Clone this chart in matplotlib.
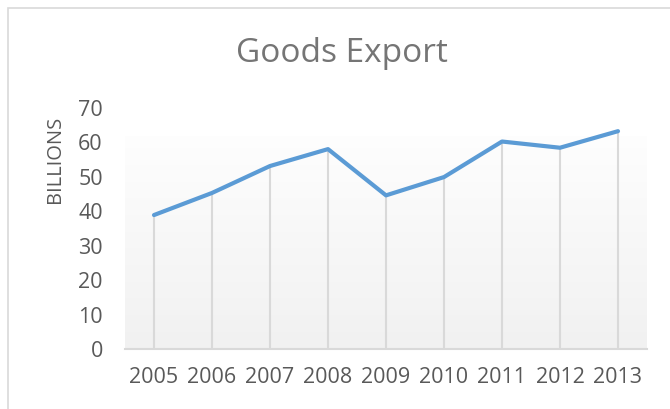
import numpy as np
import matplotlib
matplotlib.use("Agg")
import matplotlib.pyplot as plt
from matplotlib.patches import Rectangle

years = ["2005", "2006", "2007", "2008", "2009", "2010", "2011", "2012", "2013"]
exports = [38.9, 45.3, 53.1, 58.0, 44.6, 49.9, 60.2, 58.4, 63.2]
y_ticks = [0, 10, 20, 30, 40, 50, 60, 70]

W, H = 670, 409
fig = plt.figure(figsize=(W / 100, H / 100), dpi=100)
fig.patch.set_facecolor("white")

# chart frame
fig.add_artist(Rectangle((7.5 / W, -0.1), 1.2, 1 - 8 / H + 0.1, transform=fig.transFigure,
                         fill=False, edgecolor="#d9d9d9", linewidth=1.2))

ax = fig.add_axes([125 / W, 1 - 349.3 / H, (647 - 125) / W, (349.3 - 107.7) / H])
x = np.arange(len(years))
ax.set_xlim(-0.5, len(years) - 0.5)
ax.set_ylim(0, 70)

# plot-area gradient: near white at top fading to light gray at the bottom
grad = np.linspace(0, 1, 256).reshape(-1, 1)
top = np.array([0.995, 0.995, 0.995])
bot = np.array([0.945, 0.945, 0.945])
img = top + (bot - top) * grad[..., None]
ax.imshow(np.repeat(img, 2, axis=1), extent=[-0.5, len(years) - 0.5, 0, 61.5],
          origin="upper", aspect="auto", zorder=0)

# drop lines from each point to the axis
ax.vlines(x, 0, exports, colors="#d9d9d9", linewidth=1.5, zorder=1)
ax.plot(x, exports, color="#5b9bd5", linewidth=3.0, solid_capstyle="round",
        solid_joinstyle="round", zorder=3)

for s in ["top", "right", "left"]:
    ax.spines[s].set_visible(False)
ax.spines["bottom"].set_color("#d9d9d9")
ax.spines["bottom"].set_linewidth(1.5)

ax.set_xticks(x)
ax.set_xticklabels(years)
ax.set_yticks(y_ticks)
ax.tick_params(axis="both", length=0, labelsize=15.5, labelcolor="#595959")
ax.tick_params(axis="x", pad=13)
ax.tick_params(axis="y", pad=16)
for lab in ax.get_xticklabels() + ax.get_yticklabels():
    lab.set_family("Open Sans")

fig.text(55 / W, 1 - 159 / H, "BILLIONS", rotation=90, ha="center", va="center",
         fontsize=14.5, color="#595959", family="Open Sans")
fig.text(342 / W, 1 - 53 / H, "Goods Export", ha="center", va="center",
         fontsize=24, color="#757575", family="Open Sans")

fig.savefig("out.png", dpi=100, facecolor="white")
